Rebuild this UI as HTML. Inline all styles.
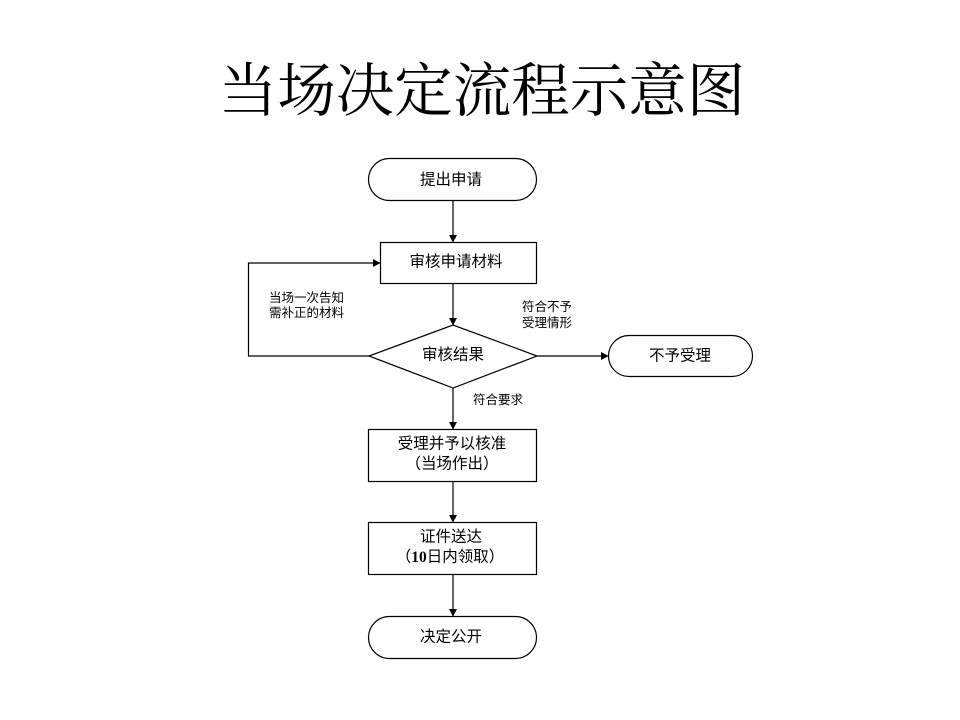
<!DOCTYPE html>
<html><head><meta charset="utf-8"><style>
html,body{margin:0;padding:0;background:#fff;}
svg{display:block;}
.t{font-family:"Liberation Sans","Noto Sans CJK SC",sans-serif;font-size:15.5px;fill:#000;}
.s{font-family:"Liberation Sans","Noto Sans CJK SC",sans-serif;font-size:12.5px;fill:#000;}
</style></head><body>
<svg width="960" height="720" viewBox="0 0 960 720" xmlns="http://www.w3.org/2000/svg">
<defs>
<marker id="a" markerWidth="8" markerHeight="8" refX="7" refY="4" orient="auto" markerUnits="userSpaceOnUse">
<path d="M0,0 L7.5,4 L0,8 Z" fill="#000"/>
</marker>
</defs>
<rect width="960" height="720" fill="#fff"/>
<text x="482" y="86" text-anchor="middle" dominant-baseline="central" style="font-family:'Noto Serif CJK SC','Liberation Serif',serif;font-size:58.5px;fill:#000">当场决定流程示意图</text>

<g fill="none" stroke="#000" stroke-width="1.2">
<rect x="368.5" y="158.5" width="168" height="42" rx="21" ry="21"/>
<rect x="380.5" y="242.5" width="156" height="41"/>
<polygon points="369,356 453,325 537,356 453,388"/>
<rect x="608.5" y="335.5" width="144" height="41" rx="20.5" ry="20.5"/>
<rect x="368.5" y="429.5" width="168" height="52"/>
<rect x="368.5" y="522.5" width="168" height="52"/>
<rect x="368.5" y="616.5" width="168" height="42" rx="21" ry="21"/>

<line x1="453" y1="201" x2="453" y2="242" marker-end="url(#a)"/>
<line x1="453" y1="284" x2="453" y2="325" marker-end="url(#a)"/>
<polyline points="369,356 248.5,356 248.5,263 380,263" marker-end="url(#a)"/>
<line x1="537" y1="356" x2="608" y2="356" marker-end="url(#a)"/>
<line x1="453" y1="388" x2="453" y2="429" marker-end="url(#a)"/>
<line x1="453" y1="482" x2="453" y2="522" marker-end="url(#a)"/>
<line x1="453" y1="575" x2="453" y2="616" marker-end="url(#a)"/>
</g>

<text class="t" x="451" y="180" text-anchor="middle" dominant-baseline="central">提出申请</text>
<text class="t" x="456" y="262" text-anchor="middle" dominant-baseline="central">审核申请材料</text>
<text class="t" x="453" y="355" text-anchor="middle" dominant-baseline="central">审核结果</text>
<text class="t" x="680" y="356" text-anchor="middle" dominant-baseline="central">不予受理</text>
<text class="t" x="452" y="444" text-anchor="middle" dominant-baseline="central">受理并予以核准</text>
<text class="t" x="452" y="464" text-anchor="middle" dominant-baseline="central">（当场作出）</text>
<text class="t" x="451" y="537" text-anchor="middle" dominant-baseline="central">证件送达</text>
<text class="t" x="450" y="557" text-anchor="middle" dominant-baseline="central">（<tspan style="font-family:'Liberation Serif',serif;font-weight:bold">10</tspan>日内领取）</text>
<text class="t" x="451" y="637" text-anchor="middle" dominant-baseline="central">决定公开</text>

<text class="s" x="269" y="298" dominant-baseline="central">当场一次告知</text>
<text class="s" x="269" y="313" dominant-baseline="central">需补正的材料</text>
<text class="s" x="522" y="307" dominant-baseline="central">符合不予</text>
<text class="s" x="522" y="323" dominant-baseline="central">受理情形</text>
<text class="s" x="473" y="400" dominant-baseline="central">符合要求</text>
</svg>
</body></html>
